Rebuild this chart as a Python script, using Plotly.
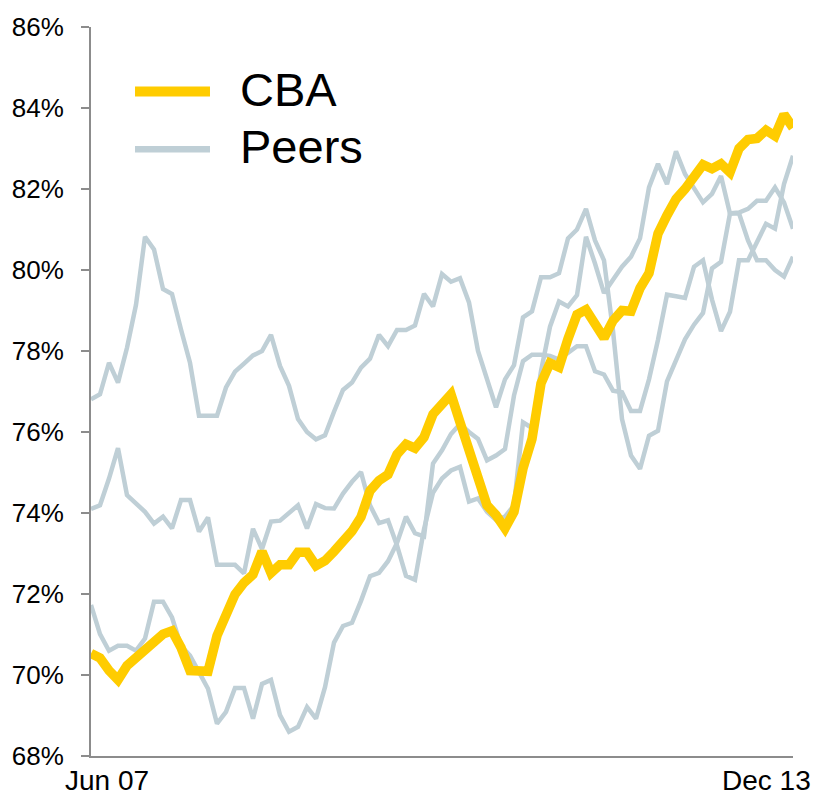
import pandas as pd
import plotly.graph_objects as go

months = pd.date_range("2007-06-01", "2013-12-01", freq="MS")
categories = [d.strftime("%b %y") for d in months]
tick_labels = ["Jun 07", "Dec 13"]
y_ticks = [68, 70, 72, 74, 76, 78, 80, 82, 84, 86]

cba = [70.53, 70.42, 70.11, 69.88, 70.23, 70.43, 70.56, 70.76, 71.01, 71.09,
       70.68, 70.11, 70.09, 70.09, 70.97, 71.50, 71.99, 72.28, 72.48, 73.05,
       72.52, 72.72, 72.72, 73.03, 73.03, 72.70, 72.82, 73.05, 73.30, 73.55,
       73.90, 74.55, 74.80, 74.95, 75.45, 75.70, 75.60, 75.87, 76.44, 76.73,
       76.93, 76.24, 75.50, 74.77, 74.19, 73.95, 73.62, 74.03, 75.10, 75.83,
       77.20, 77.70, 77.60, 78.30, 78.90, 79.02, 78.69, 78.32, 78.75, 79.00,
       78.98, 79.55, 79.92, 80.90, 81.35, 81.75, 82.00, 82.30, 82.60, 82.50,
       82.62, 82.41, 83.00, 83.22, 83.25, 83.45, 83.31, 83.84, 83.51]

peer_a = [76.81, 76.93, 77.71, 77.22, 78.08, 79.14, 80.82, 80.51, 79.53, 79.41,
          78.53, 77.71, 76.40, 76.40, 76.40, 77.10, 77.49, 77.69, 77.89, 78.00,
          78.40, 77.63, 77.14, 76.32, 76.00, 75.82, 75.92, 76.50, 77.04, 77.22,
          77.59, 77.81, 78.40, 78.12, 78.52, 78.52, 78.63, 79.41, 79.10, 79.90,
          79.71, 79.80, 79.20, 78.00, 77.30, 76.61, 77.30, 77.65, 78.83, 78.98,
          79.82, 79.82, 79.92, 80.78, 81.00, 81.51, 80.73, 80.24, 78.50, 76.32,
          75.42, 75.09, 75.91, 76.03, 77.25, 77.80, 78.29, 78.65, 78.94, 80.04,
          80.20, 81.40, 81.42, 81.51, 81.71, 81.71, 82.04, 81.67, 81.02]

peer_b = [74.10, 74.19, 74.85, 75.60, 74.44, 74.24, 74.03, 73.74, 73.91, 73.62,
          74.32, 74.32, 73.54, 73.89, 72.72, 72.72, 72.72, 72.51, 73.61, 73.11,
          73.79, 73.81, 73.99, 74.19, 73.62, 74.22, 74.12, 74.11, 74.48, 74.77,
          75.01, 74.19, 73.75, 73.82, 73.20, 72.45, 72.35, 73.60, 74.50, 74.85,
          75.05, 75.14, 74.28, 74.36, 74.03, 73.83, 73.91, 74.19, 76.24, 76.10,
          77.50, 78.60, 79.22, 79.10, 79.38, 80.82, 80.16, 79.43, 79.76, 80.08,
          80.33, 80.78, 82.04, 82.62, 82.12, 82.93, 82.37, 82.04, 81.67, 81.88,
          82.32, 81.39, 81.40, 80.73, 80.24, 80.24, 80.00, 79.84, 80.33]

peer_c = [71.73, 71.01, 70.60, 70.72, 70.72, 70.60, 70.90, 71.81, 71.81, 71.42,
          70.72, 70.48, 70.07, 69.66, 68.80, 69.09, 69.68, 69.68, 68.92, 69.78,
          69.88, 69.01, 68.60, 68.72, 69.21, 68.92, 69.70, 70.80, 71.21, 71.29,
          71.83, 72.44, 72.52, 72.81, 73.26, 73.91, 73.50, 73.42, 75.22, 75.55,
          75.95, 76.20, 76.00, 75.83, 75.30, 75.42, 75.58, 76.90, 77.75, 77.91,
          77.91, 77.88, 77.79, 77.96, 78.12, 78.12, 77.50, 77.42, 77.02, 76.98,
          76.52, 76.52, 77.30, 78.28, 79.39, 79.35, 79.31, 80.08, 80.24, 79.27,
          78.49, 78.97, 80.24, 80.24, 80.70, 81.14, 81.02, 82.12, 82.82]

CBA_COLOR = "#FFCC00"
PEER_COLOR = "#BFCFD6"
AXIS_COLOR = "#8C8C8C"
FONT = "Liberation Sans, Arial, sans-serif"

fig = go.Figure()
for name, vals in [("Peer A", peer_a), ("Peer B", peer_b), ("Peer C", peer_c)]:
    fig.add_trace(go.Scatter(x=categories, y=vals, mode="lines", name=name,
                             legendgroup="peers", showlegend=False,
                             line=dict(color=PEER_COLOR, width=4.5)))
fig.add_trace(go.Scatter(x=categories, y=cba, mode="lines", name="CBA",
                         showlegend=False,
                         line=dict(color=CBA_COLOR, width=9.5)))

# manual legend
legend_items = [("CBA", CBA_COLOR, 10, 0.9114), ("Peers", PEER_COLOR, 6.5, 0.8324)]
for label, color, w, yy in legend_items:
    fig.add_shape(type="line", xref="paper", yref="paper",
                  x0=0.0627, x1=0.1695, y0=yy, y1=yy,
                  line=dict(color=color, width=w))
    fig.add_annotation(text=label, xref="paper", yref="paper", x=0.2095, y=yy + 0.003,
                       xanchor="left", yanchor="middle", showarrow=False,
                       font=dict(family=FONT, size=47, color="black"))

# end tick labels on x axis
fig.add_annotation(text=tick_labels[0], x=categories[0], xref="x", yref="paper",
                   y=-0.034, xanchor="left", yanchor="middle", xshift=-28,
                   showarrow=False, font=dict(family=FONT, size=28, color="black"))
fig.add_annotation(text=tick_labels[1], x=categories[-1], xref="x", yref="paper",
                   y=-0.034, xanchor="right", yanchor="middle", xshift=20,
                   showarrow=False, font=dict(family=FONT, size=28, color="black"))

fig.update_layout(
    width=815, height=796,
    margin=dict(l=91, r=22, t=22, b=40),
    paper_bgcolor="white", plot_bgcolor="white",
    font=dict(family=FONT, size=26, color="black"),
    xaxis=dict(type="category", range=[0, len(categories) - 1],
               showgrid=False, zeroline=False, showticklabels=False,
               showline=True, linecolor=AXIS_COLOR, linewidth=2, ticks=""),
    yaxis=dict(range=[68, 86], tickvals=y_ticks,
               ticktext=[f"{v}%" for v in y_ticks],
               showgrid=False, zeroline=False,
               showline=True, linecolor=AXIS_COLOR, linewidth=2,
               ticks="outside", ticklen=8, tickwidth=2, tickcolor=AXIS_COLOR,
               ticklabelstandoff=12,
               tickfont=dict(family=FONT, size=26, color="black")),
)

fig.write_html("out.html",
               config={"displayModeBar": False},
               post_script="document.body.style.margin='0';document.body.style.overflow='hidden';")
